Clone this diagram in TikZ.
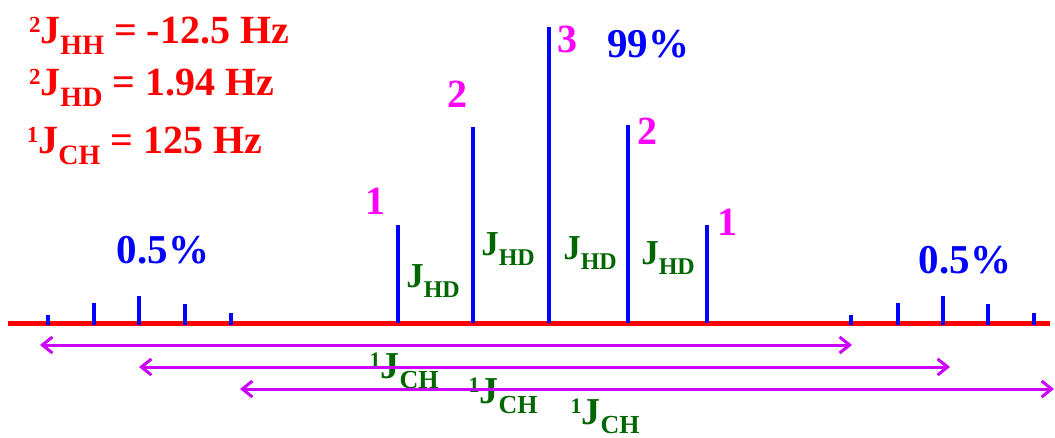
\documentclass[tikz,border=0pt]{standalone}
\usepackage{fontspec}
\setmainfont{Liberation Serif}
\usetikzlibrary{arrows.meta}
\definecolor{jred}{RGB}{255,0,0}
\definecolor{jblue}{RGB}{0,0,255}
\definecolor{jmag}{RGB}{255,0,255}
\definecolor{jgreen}{RGB}{0,102,0}
\definecolor{jviolet}{RGB}{204,0,255}
\newcommand{\fs}[1]{\fontsize{#1pt}{#1pt}\selectfont}
% sup, sub, main size, sup size, sub size, sup raise, sub drop
\newcommand{\JJ}[7]{{\fs{#3}\raisebox{#6pt}{\fs{#4}#1}J\raisebox{-#7pt}{\fs{#5}#2}}}
\tikzset{
  lbl/.style={inner sep=0pt, outer sep=0pt, font=\bfseries},
  redtxt/.style={lbl, text=jred, anchor=base west, font=\bfseries\fs{40}},
  magtxt/.style={lbl, text=jmag, anchor=base, font=\bfseries\fs{40}},
  bluetxt/.style={lbl, text=jblue, anchor=base, font=\bfseries\fs{41}},
  greentxt/.style={lbl, text=jgreen, anchor=base},
  peak/.style={draw=jblue, line width=4pt},
  axis/.style={draw=jred, line width=5pt},
  jarrow/.style={draw=jviolet, line width=3pt, {Straight Barb[length=10pt,width=16pt,line width=3pt]}-{Straight Barb[length=10pt,width=16pt,line width=3pt]}}
}
\begin{document}
\begin{tikzpicture}[x=1pt,y=-1pt]
\useasboundingbox (0,0) rectangle (1055,437);
% baseline
\coordinate (b0) at (8,323);
\coordinate (b1) at (1050,323);
\draw[axis] (b0) -- (b1);
% small satellite peaks
\foreach \x/\t in {48/315,94/303,139/296,185/304,231/313,851/315,898/303,943/296,988/304,1034/313}
  \draw[peak] (\x,325) -- (\x,\t);
% main peaks
\foreach \x/\t in {398/225,473/127,549/27,628/125,707/225}
  \draw[peak] (\x,323) -- (\x,\t);
% red constants
\node[redtxt] (c1) at (29,43) {\JJ{2}{HH}{40}{23}{28}{11}{11} = -12.5 Hz};
\node[redtxt] (c2) at (29,95) {\JJ{2}{HD}{40}{23}{28}{11}{11} = 1.94 Hz};
\node[redtxt] (c3) at (27,153) {\JJ{1}{CH}{40}{23}{28}{11}{11} = 125 Hz};
% multiplicities
\node[magtxt] (m1) at (375,214) {1};
\node[magtxt] (m2) at (457,107) {2};
\node[magtxt] (m3) at (567,52) {3};
\node[magtxt] (m4) at (647,144) {2};
\node[magtxt] (m5) at (727,235) {1};
% percentages
\node[bluetxt] (p1) at (648,57) {99\%};
\node[bluetxt] (p2) at (163,263) {0.5\%};
\node[bluetxt] (p3) at (965,273) {0.5\%};
% J_HD labels
\node[greentxt] (h1) at (433,287) {\JJ{}{HD}{35}{20}{24}{0}{10}};
\node[greentxt] (h2) at (508,255) {\JJ{}{HD}{35}{20}{24}{0}{10}};
\node[greentxt] (h3) at (590,259) {\JJ{}{HD}{35}{20}{24}{0}{10}};
\node[greentxt] (h4) at (668,264) {\JJ{}{HD}{35}{20}{24}{0}{10}};
% J_CH labels
\node[greentxt] (k1) at (404,378) {\JJ{1}{CH}{38}{22}{26}{11}{10}};
\node[greentxt] (k2) at (503,403) {\JJ{1}{CH}{38}{22}{26}{11}{10}};
\node[greentxt] (k3) at (605,424) {\JJ{1}{CH}{38}{22}{26}{11}{9}};
% J_CH arrows
\coordinate (a1l) at (40,345); \coordinate (a1r) at (852,345);
\coordinate (a2l) at (139,367); \coordinate (a2r) at (950,367);
\coordinate (a3l) at (240,389); \coordinate (a3r) at (1054,389);
\draw[jarrow] (a1l) -- (a1r);
\draw[jarrow] (a2l) -- (a2r);
\draw[jarrow] (a3l) -- (a3r);
\end{tikzpicture}
\end{document}
